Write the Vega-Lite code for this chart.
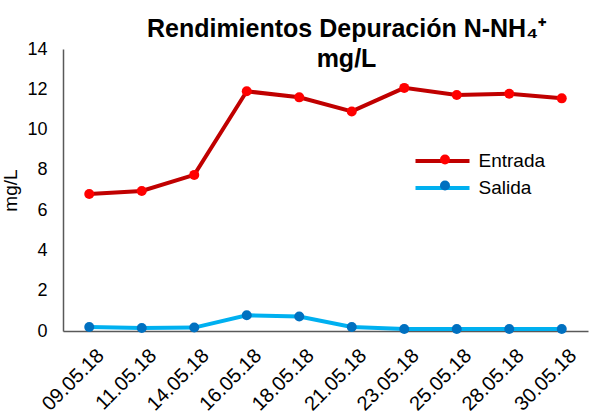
{
  "$schema": "https://vega.github.io/schema/vega-lite/v6.json",
  "width": 525,
  "height": 282,
  "autosize": "none",
  "padding": {"left": 63, "top": 49, "right": 6, "bottom": 83},
  "background": "white",
  "config": {
    "font": "Liberation Sans",
    "view": {"stroke": null},
    "legend": {"padding": 0}
  },
  "title": {
    "text": ["Rendimientos Depuración N-NH₄⁺", "mg/L"],
    "fontSize": 25,
    "fontWeight": "bold",
    "color": "#000000",
    "anchor": "middle",
    "dx": 21,
    "offset": -32,
    "lineHeight": 30
  },
  "data": {
    "values": [
      {"fecha": "09.05.18", "serie": "Entrada", "valor": 6.8},
      {"fecha": "11.05.18", "serie": "Entrada", "valor": 6.95},
      {"fecha": "14.05.18", "serie": "Entrada", "valor": 7.75},
      {"fecha": "16.05.18", "serie": "Entrada", "valor": 11.9},
      {"fecha": "18.05.18", "serie": "Entrada", "valor": 11.6},
      {"fecha": "21.05.18", "serie": "Entrada", "valor": 10.9},
      {"fecha": "23.05.18", "serie": "Entrada", "valor": 12.07},
      {"fecha": "25.05.18", "serie": "Entrada", "valor": 11.72},
      {"fecha": "28.05.18", "serie": "Entrada", "valor": 11.78},
      {"fecha": "30.05.18", "serie": "Entrada", "valor": 11.55},
      {"fecha": "09.05.18", "serie": "Salida", "valor": 0.2},
      {"fecha": "11.05.18", "serie": "Salida", "valor": 0.15},
      {"fecha": "14.05.18", "serie": "Salida", "valor": 0.17},
      {"fecha": "16.05.18", "serie": "Salida", "valor": 0.78},
      {"fecha": "18.05.18", "serie": "Salida", "valor": 0.72},
      {"fecha": "21.05.18", "serie": "Salida", "valor": 0.2},
      {"fecha": "23.05.18", "serie": "Salida", "valor": 0.1},
      {"fecha": "25.05.18", "serie": "Salida", "valor": 0.1},
      {"fecha": "28.05.18", "serie": "Salida", "valor": 0.1},
      {"fecha": "30.05.18", "serie": "Salida", "valor": 0.1}
    ]
  },
  "encoding": {
    "x": {
      "field": "fecha",
      "type": "ordinal",
      "sort": null,
      "scale": {"type": "point", "padding": 0.5},
      "axis": {
        "title": null,
        "labelAngle": -45,
        "labelFontSize": 20,
        "labelColor": "#000000",
        "ticks": false,
        "labelPadding": 14,
        "labelOffset": 4,
        "domainColor": "#595959",
        "domainWidth": 1.5,
        "grid": false
      }
    },
    "y": {
      "field": "valor",
      "type": "quantitative",
      "scale": {"domain": [0, 14], "nice": false},
      "axis": {
        "title": "mg/L",
        "titleFontSize": 19,
        "titleFontWeight": "normal",
        "titleColor": "#000000",
        "titlePadding": 6,
        "values": [0, 2, 4, 6, 8, 10, 12, 14],
        "labelFontSize": 18,
        "labelColor": "#000000",
        "labelPadding": 16,
        "ticks": false,
        "domainColor": "#595959",
        "domainWidth": 1.5,
        "grid": false
      }
    }
  },
  "layer": [
    {
      "mark": {"type": "line", "strokeWidth": 4},
      "encoding": {
        "stroke": {
          "field": "serie",
          "type": "nominal",
          "scale": {"domain": ["Entrada", "Salida"], "range": ["#C00000", "#00B0F0"]},
          "legend": {
            "title": null,
            "orient": "none",
            "legendX": 368.5,
            "legendY": 101,
            "symbolType": "M-3,0H3",
            "symbolSize": 324,
            "symbolStrokeWidth": 4,
            "labelFontSize": 19,
            "labelColor": "#000000",
            "rowPadding": 6,
            "labelOffset": 25
          }
        }
      }
    },
    {
      "mark": {"type": "point", "filled": true, "size": 100, "opacity": 1},
      "encoding": {
        "fill": {
          "field": "serie",
          "type": "nominal",
          "scale": {"domain": ["Entrada", "Salida", "otro"], "range": ["#FF0000", "#0070C0", "#000000"]},
          "legend": {
            "title": null,
            "values": ["Entrada", "Salida"],
            "orient": "none",
            "legendX": 372.5,
            "legendY": 101,
            "symbolType": "circle",
            "symbolSize": 100,
            "symbolOpacity": 1,
            "labelFontSize": 19,
            "labelExpr": "''",
            "rowPadding": 6,
            "labelOffset": 7
          }
        }
      }
    }
  ]
}
